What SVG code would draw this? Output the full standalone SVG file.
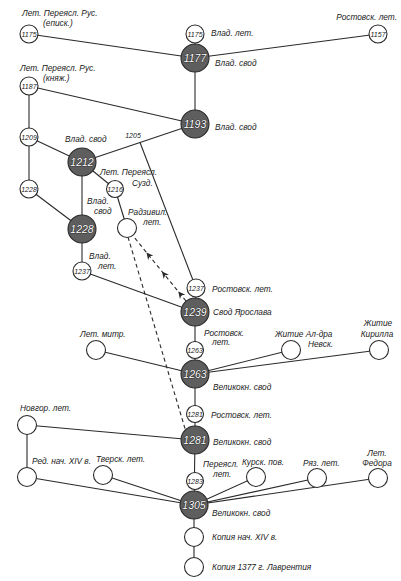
<svg xmlns="http://www.w3.org/2000/svg" width="401" height="581" viewBox="0 0 401 581">
<defs>
<style>
.e{stroke:#2a2a2a;stroke-width:1.1;fill:none}
.d{stroke:#2a2a2a;stroke-width:1.1;fill:none;stroke-dasharray:4 3}
.s{fill:#fff;stroke:#2a2a2a;stroke-width:1.1}
.b{fill:#5e5e5e;stroke:#2a2a2a;stroke-width:1.1}
.n{font-family:"Liberation Sans",Arial,sans-serif;font-style:italic;font-size:7px;fill:#222;text-anchor:middle}
.bn{font-family:"Liberation Sans",Arial,sans-serif;font-style:italic;font-size:10.5px;fill:#fff;stroke:#111;stroke-width:0.7;paint-order:stroke;text-anchor:middle}
.l{font-family:"Liberation Sans",Arial,sans-serif;font-style:italic;font-size:8.3px;fill:#222}
.m{text-anchor:middle}
</style>
<marker id="ah" viewBox="0 0 10 10" refX="9" refY="5" markerWidth="7" markerHeight="7" orient="auto" markerUnits="userSpaceOnUse">
<path d="M0,0 L10,5 L0,10 L3,5 Z" fill="#2a2a2a"/>
</marker>
</defs>
<rect width="401" height="581" fill="#fff"/>
<g id="connectors">
<line class="e" x1="29" y1="34" x2="195" y2="58"/>
<line class="e" x1="378" y1="34" x2="195" y2="58"/>
<line class="e" x1="195" y1="34" x2="195" y2="58"/>
<line class="e" x1="195" y1="58" x2="195" y2="124"/>
<line class="e" x1="29" y1="86" x2="195" y2="124"/>
<line class="e" x1="29" y1="86" x2="29" y2="137"/>
<line class="e" x1="29" y1="137" x2="82" y2="162"/>
<line class="e" x1="29" y1="137" x2="29" y2="189"/>
<line class="e" x1="195" y1="124" x2="82" y2="162"/>
<line class="e" x1="140" y1="142.5" x2="196" y2="288"/>
<line class="e" x1="82" y1="162" x2="115" y2="189"/>
<line class="e" x1="82" y1="162" x2="82" y2="229"/>
<line class="e" x1="29" y1="189" x2="82" y2="229"/>
<line class="e" x1="115" y1="189" x2="127" y2="228"/>
<line class="e" x1="82" y1="229" x2="82" y2="271"/>
<line class="e" x1="82" y1="271" x2="195" y2="312"/>
<line class="e" x1="196" y1="288" x2="195" y2="312"/>
<line class="d" x1="128" y1="237" x2="186" y2="432"/>
<path class="d" d="M186,301 L178.7,292 L162.4,272 L146.9,253 L134,237" marker-mid="url(#ah)"/>
<line class="e" x1="195" y1="312" x2="195" y2="374"/>
<line class="e" x1="195" y1="374" x2="96" y2="350"/>
<line class="e" x1="195" y1="374" x2="291" y2="350"/>
<line class="e" x1="195" y1="374" x2="379" y2="350"/>
<line class="e" x1="195" y1="374" x2="195" y2="440"/>
<line class="e" x1="27" y1="425" x2="195" y2="440"/>
<line class="e" x1="27" y1="425" x2="27" y2="477"/>
<line class="e" x1="195" y1="440" x2="194" y2="505"/>
<line class="e" x1="27" y1="477" x2="194" y2="505"/>
<line class="e" x1="103" y1="475" x2="194" y2="505"/>
<line class="e" x1="256" y1="477" x2="194" y2="505"/>
<line class="e" x1="317" y1="478" x2="194" y2="505"/>
<line class="e" x1="378" y1="478" x2="194" y2="505"/>
<line class="e" x1="194" y1="505" x2="194" y2="567"/>
</g>
<g id="n1175a"><circle class="s" cx="29" cy="34" r="9"/><text class="n" x="29" y="36.5">1175</text>
<text class="l" x="22" y="16">Лет. Переясл. Рус.</text><text class="l" x="43" y="26">(еписк.)</text></g>
<g id="n1175b"><circle class="s" cx="195" cy="34" r="9"/><text class="n" x="195" y="36.5">1175</text><text class="l" x="211" y="36">Влад. лет.</text></g>
<g id="n1157"><circle class="s" cx="378" cy="34" r="9"/><text class="n" x="378" y="36.5">1157</text><text class="l" x="397" y="20" text-anchor="end">Ростовск. лет.</text></g>
<g id="n1177"><circle class="b" cx="195" cy="58" r="14"/><text class="bn" x="195" y="62">1177</text><text class="l" x="215" y="66">Влад. свод</text></g>
<g id="n1187"><circle class="s" cx="29" cy="86" r="9"/><text class="n" x="29" y="88.5">1187</text>
<text class="l" x="20" y="71">Лет. Переясл. Рус.</text><text class="l" x="43" y="81">(княж.)</text></g>
<g id="n1193"><circle class="b" cx="195" cy="124" r="14"/><text class="bn" x="195" y="128">1193</text><text class="l" x="215" y="130">Влад. свод</text></g>
<g id="n1209"><circle class="s" cx="29" cy="137" r="9"/><text class="n" x="29" y="139.5">1209</text></g>
<g id="n1212"><circle class="b" cx="82" cy="162" r="14"/><text class="bn" x="82" y="166">1212</text><text class="l" x="65" y="142">Влад. свод</text></g>
<g id="n1205"><text class="n" x="133" y="138">1205</text></g>
<g id="n1216"><circle class="s" cx="115" cy="189" r="8.5"/><text class="n" x="115" y="191.5">1216</text>
<text class="l" x="100" y="175">Лет. Переясл.</text><text class="l" x="132" y="186">Сузд.</text></g>
<g id="n1228a"><circle class="s" cx="29" cy="189" r="9"/><text class="n" x="29" y="191.5">1228</text></g>
<g id="n1228b"><circle class="b" cx="82" cy="229" r="14"/><text class="bn" x="82" y="233">1228</text>
<text class="l" x="87" y="204">Влад.</text><text class="l" x="94" y="214">свод</text></g>
<g id="nradz"><circle class="s" cx="127" cy="228" r="9.5"/><text class="l" x="128" y="215">Радзивил.</text><text class="l" x="143" y="225">лет.</text></g>
<g id="n1237a"><circle class="s" cx="82" cy="271" r="9"/><text class="n" x="82" y="273.5">1237</text>
<text class="l" x="89" y="259">Влад.</text><text class="l" x="98" y="269">лет.</text></g>
<g id="n1237b"><circle class="s" cx="196" cy="288" r="9"/><text class="n" x="196" y="290.5">1237</text><text class="l" x="212" y="292">Ростовск. лет.</text></g>
<g id="n1239"><circle class="b" cx="195" cy="312" r="14"/><text class="bn" x="195" y="316">1239</text><text class="l" x="213" y="315">Свод Ярослава</text></g>
<g id="n1263a"><circle class="s" cx="195" cy="350" r="8.5"/><text class="n" x="195" y="352.5">1263</text>
<text class="l" x="204" y="336">Ростовск.</text><text class="l" x="212" y="345">лет.</text></g>
<g id="nmitr"><circle class="s" cx="96" cy="350" r="9.5"/><text class="l" x="80" y="337">Лет. митр.</text></g>
<g id="nnevsk"><circle class="s" cx="291" cy="350" r="9.5"/><text class="l" x="275" y="337">Житие Ал-дра</text><text class="l" x="308" y="347">Невск.</text></g>
<g id="nkir"><circle class="s" cx="379" cy="350" r="9.5"/><text class="l m" x="378" y="326">Житие</text><text class="l m" x="377" y="337">Кирилла</text></g>
<g id="n1263b"><circle class="b" cx="195" cy="374" r="14"/><text class="bn" x="195" y="378">1263</text><text class="l" x="213" y="390">Великокн. свод</text></g>
<g id="n1281a"><circle class="s" cx="195" cy="414" r="8.5"/><text class="n" x="195" y="416.5">1281</text><text class="l" x="211" y="418">Ростовск. лет.</text></g>
<g id="nnovg"><circle class="s" cx="27" cy="425" r="9.5"/><text class="l" x="20" y="411">Новгор. лет.</text></g>
<g id="n1281b"><circle class="b" cx="195" cy="440" r="14"/><text class="bn" x="195" y="444">1281</text><text class="l" x="213" y="445">Великокн. свод</text></g>
<g id="nred"><circle class="s" cx="27" cy="477" r="9.5"/><text class="l" x="32" y="464">Ред. нач. XIV в.</text></g>
<g id="ntver"><circle class="s" cx="103" cy="475" r="9.5"/><text class="l" x="96" y="462">Тверск. лет.</text></g>
<g id="n1283"><circle class="s" cx="195" cy="481" r="8.5"/><text class="n" x="195" y="483.5">1283</text>
<text class="l" x="203" y="467">Переясл.</text><text class="l" x="213" y="477">лет.</text></g>
<g id="nkursk"><circle class="s" cx="256" cy="477" r="9.5"/><text class="l" x="242" y="465">Курск. пов.</text></g>
<g id="nryaz"><circle class="s" cx="317" cy="478" r="9.5"/><text class="l" x="303" y="466">Ряз. лет.</text></g>
<g id="nfed"><circle class="s" cx="378" cy="478" r="9.5"/><text class="l m" x="377" y="456">Лет.</text><text class="l m" x="377" y="466">Федора</text></g>
<g id="n1305"><circle class="b" cx="194" cy="505" r="14"/><text class="bn" x="194" y="509">1305</text><text class="l" x="212" y="516">Великокн. свод</text></g>
<g id="ncop1"><circle class="s" cx="194" cy="537" r="9.5"/><text class="l" x="212" y="540">Копия нач. XIV в.</text></g>
<g id="ncop2"><circle class="s" cx="194" cy="567" r="9.5"/><text class="l" x="212" y="570">Копия 1377 г. Лаврентия</text></g>
</svg>
